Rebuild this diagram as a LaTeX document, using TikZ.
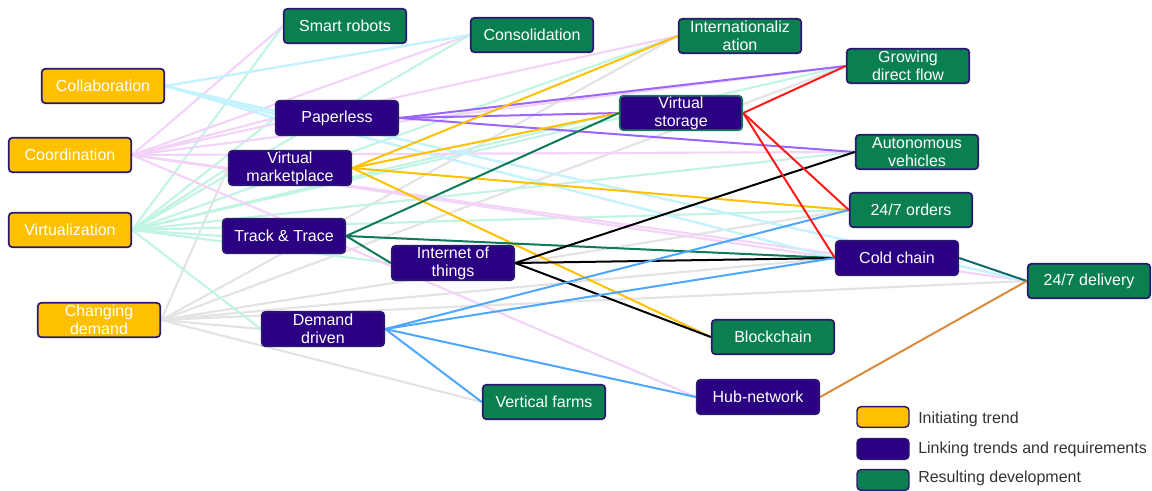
\documentclass[tikz,border=0pt]{standalone}
\usepackage{fontspec}
\setmainfont{Liberation Sans}
\usetikzlibrary{backgrounds}
\definecolor{cyel}{HTML}{FFC000}
\definecolor{cpur}{HTML}{2B0082}
\definecolor{cgrn}{HTML}{0A7F4F}
\definecolor{cbord}{HTML}{2A1870}
\definecolor{vsbord}{HTML}{1B7A5A}
\definecolor{lcyan}{HTML}{C4F2FF}
\definecolor{lpink}{HTML}{F3D4F8}
\definecolor{lmint}{HTML}{C2F5E1}
\definecolor{lgray}{HTML}{E3E3E3}
\definecolor{cpurple}{HTML}{9A66FF}
\definecolor{corange}{HTML}{FFC000}
\definecolor{cdgreen}{HTML}{0F7A5A}
\definecolor{cblue}{HTML}{4DA6FF}
\definecolor{cred}{HTML}{FF1A1A}
\definecolor{cteal}{HTML}{106868}
\definecolor{cbrown}{HTML}{D98A3A}
\definecolor{legtext}{HTML}{333333}
\begin{document}
\begin{tikzpicture}[x=0.75pt,y=-0.75pt,
  box/.style={draw=cbord, line width=1.3pt, rounded corners=3pt, minimum width=92pt, minimum height=26pt, inner sep=0.5pt, align=center, text=white, font=\fontsize{12}{13.5}\selectfont},
  init/.style={box, fill=cyel},
  linkbox/.style={box, fill=cpur},
  res/.style={box, fill=cgrn},
  legbox/.style={draw=cbord, line width=1.1pt, rounded corners=3pt, minimum width=39pt, minimum height=15.5pt, inner sep=0pt},
  legtxt/.style={anchor=west, text=legtext, font=\fontsize{12}{13.5}\selectfont, inner sep=0pt},
  ecyan/.style={draw=lcyan, line width=1.8pt},
  epink/.style={draw=lpink, line width=1.6pt},
  emint/.style={draw=lmint, line width=1.6pt},
  egray/.style={draw=lgray, line width=1.6pt},
  epurple/.style={draw=cpurple, line width=1.5pt},
  eorange/.style={draw=corange, line width=1.5pt},
  egreen/.style={draw=cdgreen, line width=1.5pt},
  eblack/.style={draw=black, line width=1.5pt},
  eblue/.style={draw=cblue, line width=1.5pt},
  ered/.style={draw=cred, line width=1.5pt},
  eteal/.style={draw=cteal, line width=1.5pt},
  ebrown/.style={draw=cbrown, line width=1.5pt}]
\useasboundingbox (0,0) rectangle (1152,490);

% nodes
\node[res] (smart) at (345,26) {Smart robots};
\node[res] (consol) at (532,35) {Consolidation};
\node[res] (intl) at (740,36) {Internationaliz\\ation};
\node[res] (growing) at (908,66) {Growing\\direct flow};
\node[init] (collab) at (103,86) {Collaboration};
\node[linkbox] (paper) at (337,118) {Paperless};
\node[linkbox, draw=vsbord] (vstore) at (681,113) {Virtual\\storage};
\node[init] (coord) at (70,155) {Coordination};
\node[linkbox] (vmarket) at (290,168) {Virtual\\marketplace};
\node[res] (auto) at (917,152) {Autonomous\\vehicles};
\node[res] (orders) at (911,210) {24/7 orders};
\node[init] (virt) at (70,230) {Virtualization};
\node[linkbox] (track) at (284,236) {Track \& Trace};
\node[linkbox] (iot) at (453,263) {Internet of\\things};
\node[linkbox] (cold) at (897,258) {Cold chain};
\node[res] (delivery) at (1089,281) {24/7 delivery};
\node[init] (change) at (99,320) {Changing\\demand};
\node[linkbox] (ddriven) at (323,329) {Demand\\driven};
\node[res] (block) at (773,337) {Blockchain};
\node[res] (vfarms) at (544,402) {Vertical farms};
\node[linkbox] (hub) at (758,397) {Hub-network};

% legend
\node[legbox, fill=cyel] (lg1) at (883,417) {};
\node[legbox, fill=cpur] (lg2) at (883,449) {};
\node[legbox, fill=cgrn] (lg3) at (883,480) {};
\node[legtxt] (lt1) at (918,419) {Initiating trend};
\node[legtxt] (lt2) at (918,449) {Linking trends and requirements};
\node[legtxt] (lt3) at (918,478) {Resulting development};

\begin{scope}[on background layer]
% changing demand (gray)
\foreach \t in {vmarket,intl,growing,orders,cold,delivery,ddriven,vfarms}
  \draw[egray] (change.east) -- (\t.west);
% virtualization (mint)
\foreach \t in {smart,consol,intl,growing,paper,vmarket,track,vstore,auto,orders,iot,ddriven}
  \draw[emint] (virt.east) -- (\t.west);
% coordination (pink)
\foreach \t in {smart,consol,intl,growing,paper,vmarket,auto,cold,delivery,hub}
  \draw[epink] (coord.east) -- (\t.west);
% collaboration (cyan)
\foreach \t in {consol,paper,cold,delivery}
  \draw[ecyan] (collab.east) -- (\t.west);
% colored links
\foreach \t in {growing,vstore,auto}
  \draw[epurple] (paper.east) -- (\t.west);
\foreach \t in {intl,vstore,orders,block}
  \draw[eorange] (vmarket.east) -- (\t.west);
\foreach \t in {vstore,cold,iot}
  \draw[egreen] (track.east) -- (\t.west);
\foreach \t in {auto,cold,block}
  \draw[eblack] (iot.east) -- (\t.west);
\foreach \t in {orders,cold,vfarms,hub}
  \draw[eblue] (ddriven.east) -- (\t.west);
\foreach \t in {growing,orders,cold}
  \draw[ered] (vstore.east) -- (\t.west);
\draw[eteal] (cold.east) -- (delivery.west);
\draw[ebrown] (hub.east) -- (delivery.west);
\end{scope}
\end{tikzpicture}
\end{document}
